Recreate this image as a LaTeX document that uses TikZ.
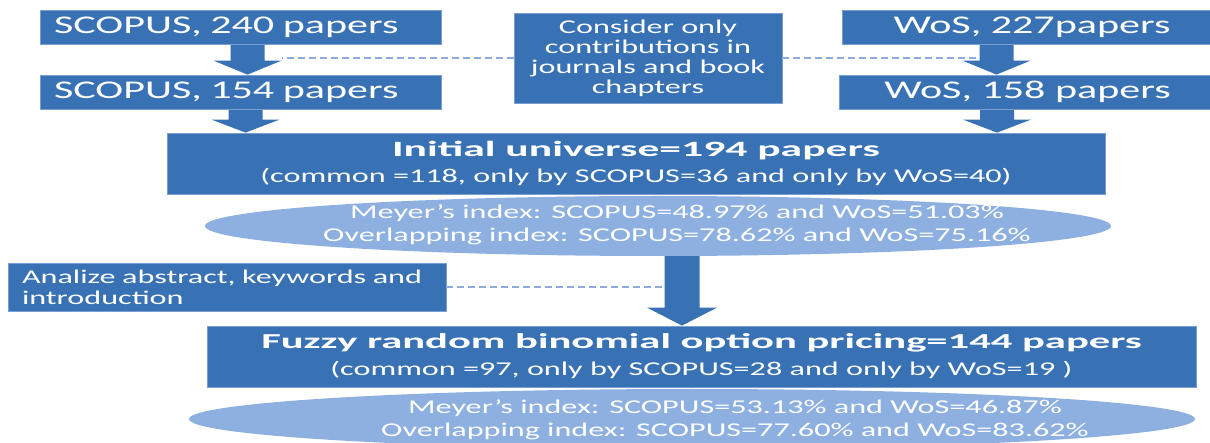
\documentclass[tikz,border=0pt]{standalone}
\usepackage{fontspec}
\setmainfont{Carlito}[FakeStretch=1.65]
\newfontfamily\boldwide{Carlito}[FakeStretch=2.0]
\usetikzlibrary{shapes.geometric,backgrounds}
\definecolor{boxblue}{RGB}{56,114,181}
\definecolor{rimblue}{RGB}{120,158,210}
\definecolor{ellblue}{RGB}{141,176,225}
\definecolor{dashblue}{RGB}{143,170,220}
\tikzset{
  box/.style={rectangle, fill=boxblue, draw=rimblue, line width=0.8pt, text=white, inner sep=0pt},
  ellshape/.style={ellipse, fill=ellblue, draw=none, inner sep=0pt},
  etext/.style={text=white, align=center, inner sep=0pt, font=\fontsize{19.5}{23}\selectfont},
  bigtxt/.style={font=\fontsize{25.5}{27}\selectfont},
  smalltxt/.style={font=\fontsize{19.5}{20}\selectfont},
  dashconn/.style={draw=dashblue, line width=1.2pt, dash pattern=on 7pt off 4pt}
}
\newcommand{\blockarr}[6]{\fill[boxblue] ([xshift=-#4]#1 |- #2) -- ([xshift=#4]#1 |- #2) -- ([xshift=#4,yshift=#6]#1 |- #3) -- ([xshift=#5,yshift=#6]#1 |- #3) -- (#1 |- #3) -- ([xshift=-#5,yshift=#6]#1 |- #3) -- ([xshift=-#4,yshift=#6]#1 |- #3) -- cycle;}
\begin{document}
\begin{tikzpicture}[x=1pt,y=-1pt]
\useasboundingbox (0,0) rectangle (1210,443);

% top row
\node[box, bigtxt, minimum width=401pt, minimum height=34pt, text width=373pt, align=left] (s240) at (240.5,27) {SCOPUS, 240 papers};
\node[box, bigtxt, minimum width=401pt, minimum height=34pt, text width=373pt, align=left] (s154) at (240.5,92) {SCOPUS, 154 papers};
\node[box, smalltxt, minimum width=268pt, minimum height=90pt, align=center] (consider) at (648,58) {Consider only\\contributions in\\journals and book\\chapters};
\node[box, bigtxt, minimum width=380pt, minimum height=34pt, align=center] (w227) at (1032,27) {WoS, 227papers};
\node[box, bigtxt, minimum width=377pt, minimum height=34pt, align=center] (w158) at (1027.5,92) {WoS, 158 papers};

% initial universe
\node[box, minimum width=938pt, minimum height=61pt, align=center] (initial) at (636,163.5)
  {{\boldwide\bfseries\fontsize{21.8}{24}\selectfont Initial universe=194 papers}\\[8pt]
   {\fontsize{19.5}{20}\selectfont (common =118, only by SCOPUS=36 and only by WoS=40)}};

% ellipse 1
\node[ellshape, minimum width=906pt, minimum height=60pt] (ell1) at (658,226) {};
\node[etext] (ell1txt) at (677,224.5) {Meyer’s index: SCOPUS=48.97\% and WoS=51.03\%\\Overlapping index: SCOPUS=78.62\% and WoS=75.16\%};

% analize box
\node[box, minimum width=438pt, minimum height=48pt, text width=410pt, align=left, font=\fontsize{19.5}{21}\selectfont] (analize) at (227,287) {Analize abstract, keywords and\\introduction};

% fuzzy box
\node[box, minimum width=989pt, minimum height=61pt, align=center] (fuzzy) at (701.5,356.5)
  {{\boldwide\bfseries\fontsize{21.3}{24}\selectfont Fuzzy random binomial option pricing=144 papers}\\[8pt]
   {\fontsize{19.5}{20}\selectfont (common =97, only by SCOPUS=28 and only by WoS=19 )}};

% ellipse 2
\node[ellshape, minimum width=1006pt, minimum height=60pt] (ell2) at (692,419) {};
\node[etext] (ell2txt) at (735,420) {Meyer’s index: SCOPUS=53.13\% and WoS=46.87\%\\Overlapping index: SCOPUS=77.60\% and WoS=83.62\%};

% arrow axes
\coordinate (ax1) at (247.5,0);
\coordinate (ax2) at (245.5,0);
\coordinate (ax3) at (996.5,0);
\coordinate (ax4) at (997,0);
\coordinate (ax5) at (682,0);

\begin{scope}[on background layer]
\fill[white] (0,0) rectangle (1210,443);
\blockarr{ax1}{s240.south}{s154.north}{17pt}{34pt}{14pt}
\blockarr{ax2}{s154.south}{initial.north}{17pt}{34pt}{13pt}
\blockarr{ax3}{w227.south}{w158.north}{17pt}{34pt}{14pt}
\blockarr{ax4}{w158.south}{initial.north}{17pt}{34pt}{13pt}
\blockarr{ax5}{ell1.south}{fuzzy.north}{17.5pt}{35pt}{18pt}
\end{scope}

% dashed connectors
\draw[dashconn] (consider.west) -- ([xshift=34pt]ax1 |- consider.west);
\draw[dashconn] (consider.east) -- ([xshift=-17pt]ax3 |- consider.east);
\draw[dashconn] (analize.east) -- ([xshift=-17.5pt]ax5 |- analize.east);
\end{tikzpicture}
\end{document}
